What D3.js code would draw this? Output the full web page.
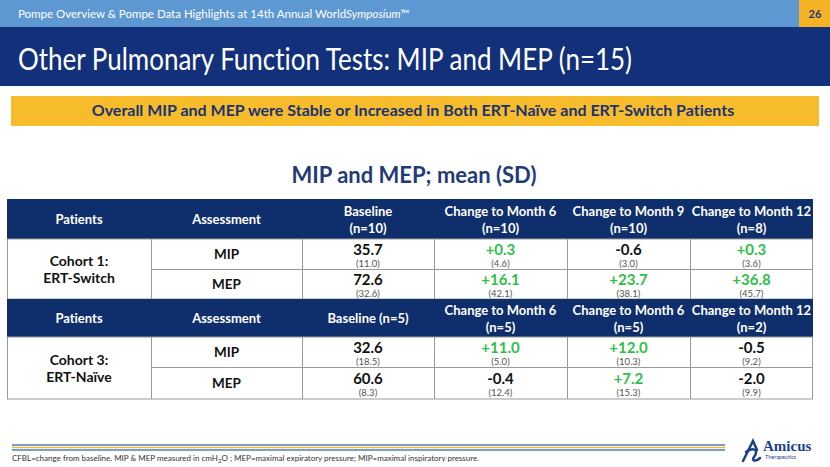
<!DOCTYPE html>
<meta charset="utf-8">
<script src="https://d3js.org/d3.v7.min.js"></script>
<style>
  body { margin: 0; background: #fff; }
  svg { display: block; font-family: Lato, "Open Sans", sans-serif; font-variant-ligatures: none; }
</style>
<div id="slide"></div>
<script>
// ---- data ----
var cohorts = [["Cohort 1:", "ERT-Switch"], ["Cohort 3:", "ERT-Naïve"]];
var assessments = ["MIP", "MEP"];
var header1 = [["Patients"], ["Assessment"], ["Baseline", "(n=10)"], ["Change to Month 6", "(n=10)"], ["Change to Month 9", "(n=10)"], ["Change to Month 12", "(n=8)"]];
var header2 = [["Patients"], ["Assessment"], ["Baseline (n=5)"], ["Change to Month 6", "(n=5)"], ["Change to Month 6", "(n=5)"], ["Change to Month 12", "(n=2)"]];
var cohort1Mean = [[35.7, 0.3, -0.6, 0.3], [72.6, 16.1, 23.7, 36.8]];
var cohort1SD = [[11.0, 4.6, 3.0, 3.6], [32.6, 42.1, 38.1, 45.7]];
var cohort3Mean = [[32.6, 11.0, 12.0, -0.5], [60.6, -0.4, 7.2, -2.0]];
var cohort3SD = [[18.5, 5.0, 10.3, 9.2], [8.3, 12.4, 15.3, 9.9]];

// ---- layout ----
var W = 830, H = 467;
var navy = "#13307a", headNavy = "#0f2e6c", green = "#2fbf4a";
var colEdges = [7, 151, 302, 434, 567, 690, 813];
var rowEdges = [199, 239, 269, 299, 337, 367, 399]; // head, MIP, MEP, head, MIP, MEP

var svg = d3.select("#slide").append("svg")
    .attr("width", W).attr("height", H);

// top strip
svg.append("rect").attr("x", 0).attr("y", 0).attr("width", W).attr("height", 27).attr("fill", "#5d98d3");
svg.append("rect").attr("x", 799).attr("y", 0).attr("width", 31).attr("height", 27).attr("fill", "#f5b224");
svg.append("text").attr("x", 815).attr("y", 18).attr("text-anchor", "middle")
    .style("font-size", "11px").style("font-weight", "bold").attr("fill", "#1d3a7a").text("26");
var topText = svg.append("text").attr("x", 18).attr("y", 18).attr("fill", "#fff").style("font-size", "11.5px");
topText.append("tspan").text("Pompe Overview & Pompe Data Highlights at 14th Annual World");
topText.append("tspan").style("font-style", "italic").text("Symposium");
topText.append("tspan").text("™");

// title band
svg.append("rect").attr("x", 0).attr("y", 27).attr("width", W).attr("height", 59).attr("fill", navy);
svg.append("text").attr("x", 18).attr("y", 70).attr("fill", "#fff")
    .attr("textLength", 614).attr("lengthAdjust", "spacingAndGlyphs")
    .style("font-size", "30px").text("Other Pulmonary Function Tests: MIP and MEP (n=15)");

// yellow banner
svg.append("rect").attr("x", 11).attr("y", 96).attr("width", 808).attr("height", 30).attr("fill", "#f6bc2c");
svg.append("text").attr("x", 413).attr("y", 116).attr("text-anchor", "middle")
    .attr("fill", "#1a3370").style("font-size", "16px").style("font-weight", "bold")
    .text("Overall MIP and MEP were Stable or Increased in Both ERT-Naïve and ERT-Switch Patients");

// subtitle
svg.append("text").attr("x", 414).attr("y", 183).attr("text-anchor", "middle")
    .attr("fill", "#1f3b78").style("font-size", "22px").style("font-weight", "bold")
    .text("MIP and MEP; mean (SD)");

// ---- table ----
var colC = function (i) { return (colEdges[i] + colEdges[i + 1]) / 2; };

function fmt(v, isChange) {
  var s = Math.abs(v).toFixed(1);
  if (!isChange) return s;
  return (v > 0 ? "+" : "-") + s;
}

function drawHeader(labels, r) {
  var y0 = rowEdges[r], y1 = rowEdges[r + 1], mid = (y0 + y1) / 2;
  svg.append("rect").attr("x", colEdges[0]).attr("y", y0)
      .attr("width", colEdges[6] - colEdges[0]).attr("height", y1 - y0).attr("fill", headNavy);
  labels.forEach(function (lines, i) {
    var t = svg.append("text").attr("text-anchor", "middle").attr("fill", "#fff")
        .style("font-size", "13px").style("font-weight", "bold");
    lines.forEach(function (ln, k) {
      t.append("tspan").attr("x", colC(i))
          .attr("y", mid + 5 + (k - (lines.length - 1) / 2) * 17).text(ln);
    });
  });
}

function drawBody(label, means, sds, r) {
  var y0 = rowEdges[r], y2 = rowEdges[r + 2];
  // grid
  var g = svg.append("g").attr("stroke", "#9a9a9a").attr("stroke-width", 1).attr("fill", "none");
  g.append("rect").attr("x", colEdges[0] + 0.5).attr("y", y0).attr("width", colEdges[6] - colEdges[0] - 1).attr("height", y2 - y0);
  colEdges.slice(1, 6).forEach(function (x) {
    g.append("line").attr("x1", x + 0.5).attr("x2", x + 0.5).attr("y1", y0).attr("y2", y2);
  });
  g.append("line").attr("x1", colEdges[1]).attr("x2", colEdges[6])
      .attr("y1", rowEdges[r + 1] + 0.5).attr("y2", rowEdges[r + 1] + 0.5);

  // cohort label
  var t = svg.append("text").attr("text-anchor", "middle").attr("fill", "#111")
      .style("font-size", "14px").style("font-weight", "bold");
  label.forEach(function (ln, k) {
    t.append("tspan").attr("x", colC(0)).attr("y", (y0 + y2) / 2 + 5 + (k - 0.5) * 17).text(ln);
  });

  assessments.forEach(function (a, j) {
    var ry0 = rowEdges[r + j], ry1 = rowEdges[r + j + 1], mid = (ry0 + ry1) / 2;
    svg.append("text").attr("x", colC(1)).attr("y", mid + 5).attr("text-anchor", "middle")
        .attr("fill", "#111").style("font-size", "13.5px").style("font-weight", "bold").text(a);
    means[j].forEach(function (v, c) {
      var isChange = c > 0;
      svg.append("text").attr("x", colC(c + 2)).attr("y", mid + 1).attr("text-anchor", "middle")
          .attr("fill", isChange && v > 0 ? green : "#111")
          .style("font-size", "15px").style("font-weight", "bold").text(fmt(v, isChange));
      svg.append("text").attr("x", colC(c + 2)).attr("y", mid + 13).attr("text-anchor", "middle")
          .attr("fill", "#555").style("font-size", "9.5px").text("(" + sds[j][c].toFixed(1) + ")");
    });
  });
}

drawHeader(header1, 0);
drawBody(cohorts[0], cohort1Mean, cohort1SD, 1);
drawHeader(header2, 3);
drawBody(cohorts[1], cohort3Mean, cohort3SD, 4);

// ---- footer ----
[["#4a7fc4", 445], ["#f6bc2c", 447.5], ["#4a7fc4", 450]].forEach(function (s) {
  svg.append("line").attr("x1", 12).attr("x2", 725).attr("y1", s[1]).attr("y2", s[1])
      .attr("stroke", s[0]).attr("stroke-width", 1.3);
});
var fn = svg.append("text").attr("x", 12).attr("y", 461).attr("fill", "#333").style("font-size", "8px");
fn.append("tspan").text("CFBL=change from baseline. MIP & MEP measured in cmH");
fn.append("tspan").attr("dy", 2).style("font-size", "6px").text("2");
fn.append("tspan").attr("dy", -2).text("O ; MEP=maximal expiratory pressure; MIP=maximal inspiratory pressure.");

// logo
var logo = svg.append("g").attr("fill", "none").attr("stroke", "#1c3f8c").attr("stroke-width", 2.5).attr("stroke-linecap", "round");
logo.append("path").attr("d", "M743,461 L753,441 L757,450");
logo.append("path").attr("d", "M746,452 C752,447 760,449 754,457 C751,461 756,462 760,458");
svg.append("text").attr("x", 763).attr("y", 451).attr("fill", "#1c3f8c")
    .style("font-family", "'Liberation Serif', serif").style("font-size", "15px").style("font-weight", "bold").text("Amicus");
svg.append("text").attr("x", 765).attr("y", 459).attr("fill", "#1c3f8c")
    .style("font-size", "5.5px").text("Therapeutics");
</script>
